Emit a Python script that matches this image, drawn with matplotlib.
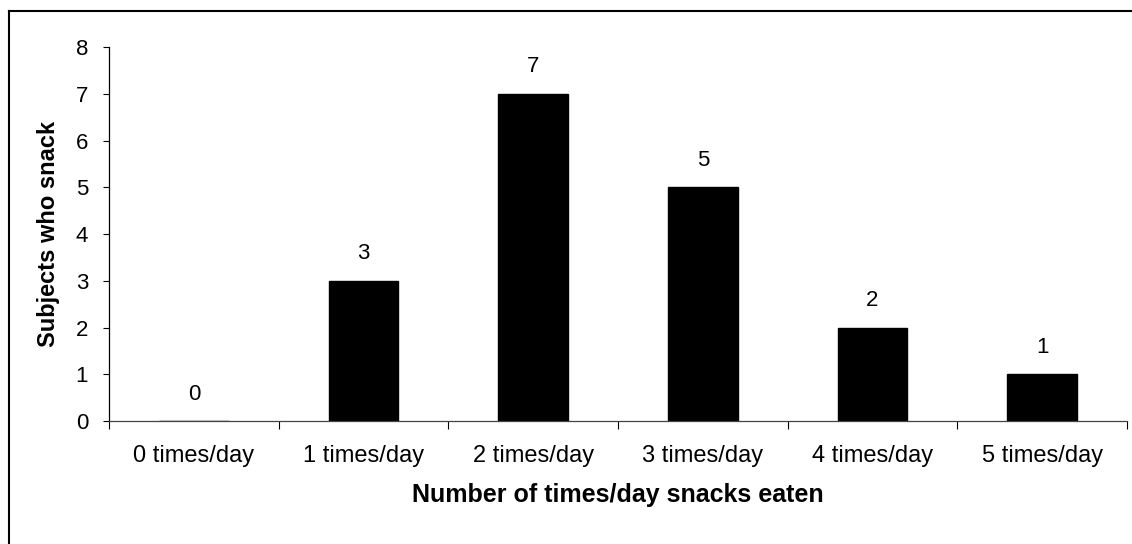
import matplotlib
matplotlib.use('Agg')
import matplotlib.pyplot as plt
from matplotlib.lines import Line2D
import numpy as np

plt.rcParams['font.family'] = ['Liberation Sans', 'DejaVu Sans']

categories = ['0 times/day', '1 times/day', '2 times/day', '3 times/day', '4 times/day', '5 times/day']
subjects = [0, 3, 7, 5, 2, 1]
yticks = [0, 1, 2, 3, 4, 5, 6, 7, 8]

fig = plt.figure(figsize=(11.32, 5.44), dpi=100)
ax = fig.add_axes([0.0963, 0.2261, 0.8993, 0.6875])

x = np.arange(len(categories))
ax.bar(x, subjects, width=0.41, color='black', edgecolor='black')
for xi, v in zip(x, subjects):
    ax.text(xi, v + 0.35, str(v), ha='center', va='bottom', fontsize=16)

ax.set_xlim(-0.5, len(categories) - 0.5)
ax.set_ylim(0, 8)
ax.set_yticks(yticks)
ax.tick_params(axis='y', labelsize=16, length=4, direction='out', width=0.8, pad=11)

# category ticks at boundaries, labels in the middle
ax.set_xticks(np.arange(-0.5, len(categories), 1.0))
ax.set_xticklabels([])
ax.set_xticks(x, minor=True)
ax.set_xticklabels(categories, minor=True, fontsize=17)
ax.tick_params(axis='x', which='major', length=6, width=0.8, direction='out')
ax.tick_params(axis='x', which='minor', length=0, pad=17)

for s in ['top', 'right']:
    ax.spines[s].set_visible(False)
ax.spines['left'].set_linewidth(0.9)
ax.spines['bottom'].set_linewidth(0.9)
ax.spines['bottom'].set_color('#444444')

ax.set_xlabel('Number of times/day snacks eaten', fontsize=18, fontweight='bold', labelpad=12)
ax.set_ylabel('Subjects who snack', fontsize=17, fontweight='bold', labelpad=11)

# outer chart border (left and top edges visible)
fig.add_artist(Line2D([9/1132, 9/1132], [0, 1 - 11/544], color='black', lw=1.5, transform=fig.transFigure))
fig.add_artist(Line2D([9/1132, 1], [1 - 11/544, 1 - 11/544], color='black', lw=1.5, transform=fig.transFigure))

plt.savefig('out.png', dpi=100)
plt.close()
